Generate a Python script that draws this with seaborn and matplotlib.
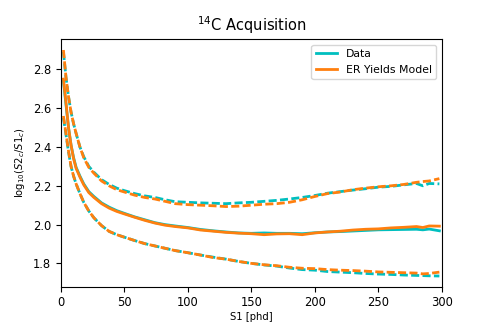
import numpy as np
import pandas as pd
import matplotlib
matplotlib.use("Agg")
import matplotlib.pyplot as plt
import seaborn as sns

# S1 bin centres [phd]
s1 = [2, 4, 6, 8, 10, 12, 15, 18, 22, 26, 32, 38, 44, 50, 58, 66, 74, 82, 90, 100,
      110, 120, 130, 140, 150, 160, 170, 180, 190, 200, 210, 220, 230, 240, 250,
      260, 270, 280, 285, 290, 298]

# data (14C calibration) - median and band edges of log10(S2c/S1c)
data_med = [2.74, 2.62, 2.50, 2.41, 2.345, 2.295, 2.25, 2.21, 2.17, 2.145, 2.112, 2.09,
            2.072, 2.058, 2.04, 2.025, 2.01, 2.0, 1.993, 1.985, 1.975, 1.968, 1.962,
            1.957, 1.955, 1.957, 1.955, 1.955, 1.953, 1.958, 1.962, 1.964, 1.967, 1.97,
            1.973, 1.974, 1.975, 1.976, 1.973, 1.977, 1.968]
data_hi = [2.89, 2.76, 2.66, 2.58, 2.52, 2.47, 2.40, 2.35, 2.30, 2.27, 2.232, 2.207,
           2.188, 2.175, 2.16, 2.148, 2.14, 2.128, 2.118, 2.115, 2.112, 2.11, 2.108,
           2.112, 2.115, 2.12, 2.125, 2.132, 2.14, 2.15, 2.162, 2.17, 2.178, 2.185,
           2.193, 2.197, 2.205, 2.212, 2.2, 2.212, 2.21]
data_lo = [2.55, 2.465, 2.375, 2.30, 2.25, 2.21, 2.16, 2.115, 2.07, 2.035, 1.995, 1.965,
           1.948, 1.935, 1.918, 1.902, 1.89, 1.878, 1.866, 1.855, 1.843, 1.832, 1.822,
           1.81, 1.8, 1.792, 1.786, 1.776, 1.768, 1.765, 1.758, 1.755, 1.752, 1.748,
           1.745, 1.743, 1.74, 1.738, 1.737, 1.736, 1.735]

# ER yields model
model_med = [2.75, 2.63, 2.50, 2.41, 2.34, 2.29, 2.245, 2.205, 2.165, 2.14, 2.108, 2.085,
             2.068, 2.055, 2.038, 2.022, 2.008, 1.997, 1.99, 1.983, 1.972, 1.966, 1.96,
             1.956, 1.953, 1.948, 1.952, 1.953, 1.948, 1.957, 1.962, 1.966, 1.972, 1.976,
             1.978, 1.983, 1.986, 1.99, 1.985, 1.993, 1.992]
model_hi = [2.90, 2.76, 2.66, 2.58, 2.52, 2.47, 2.40, 2.345, 2.295, 2.265, 2.225, 2.2,
            2.18, 2.168, 2.152, 2.14, 2.132, 2.12, 2.108, 2.103, 2.1, 2.097, 2.093, 2.095,
            2.1, 2.105, 2.108, 2.115, 2.128, 2.145, 2.16, 2.168, 2.18, 2.188, 2.195, 2.2,
            2.207, 2.218, 2.222, 2.225, 2.237]
model_lo = [2.56, 2.47, 2.38, 2.30, 2.25, 2.21, 2.16, 2.115, 2.07, 2.035, 1.995, 1.965,
            1.948, 1.935, 1.918, 1.902, 1.89, 1.878, 1.866, 1.855, 1.843, 1.83, 1.822,
            1.81, 1.8, 1.793, 1.788, 1.78, 1.775, 1.773, 1.768, 1.765, 1.763, 1.76, 1.756,
            1.754, 1.752, 1.75, 1.746, 1.748, 1.755]

c_data = "c"
c_model = "tab:orange"
dash = (0, (2.9, 1.2))

fig, ax = plt.subplots(figsize=(4.91, 3.28), dpi=100)
fig.subplots_adjust(left=0.124, right=0.9, top=0.88, bottom=0.126)

# data first, model on top
sns.lineplot(x=s1, y=data_med, ax=ax, color=c_data, lw=2, label="Data")
sns.lineplot(x=s1, y=data_hi, ax=ax, color=c_data, lw=2, ls=dash)
sns.lineplot(x=s1, y=data_lo, ax=ax, color=c_data, lw=2, ls=dash)
sns.lineplot(x=s1, y=model_med, ax=ax, color=c_model, lw=2, label="ER Yields Model")
sns.lineplot(x=s1, y=model_hi, ax=ax, color=c_model, lw=2, ls=dash)
sns.lineplot(x=s1, y=model_lo, ax=ax, color=c_model, lw=2, ls=dash)

ax.set_xlim(0, 300)
ax.set_ylim(1.68, 2.955)
ax.set_xticks([0, 50, 100, 150, 200, 250, 300])
ax.set_yticks([1.8, 2.0, 2.2, 2.4, 2.6, 2.8])
ax.tick_params(labelsize=8.3)
ax.set_xlabel("S1 [phd]", fontsize=7.2, labelpad=2)
ax.set_ylabel(r"log$_{10}$($S2_c/S1_c$)", fontsize=7.2)
ax.set_title(r"$^{14}$C Acquisition", fontsize=10.5)
ax.legend(loc="upper right", fontsize=7.8)

plt.savefig("out.png", dpi=100)
